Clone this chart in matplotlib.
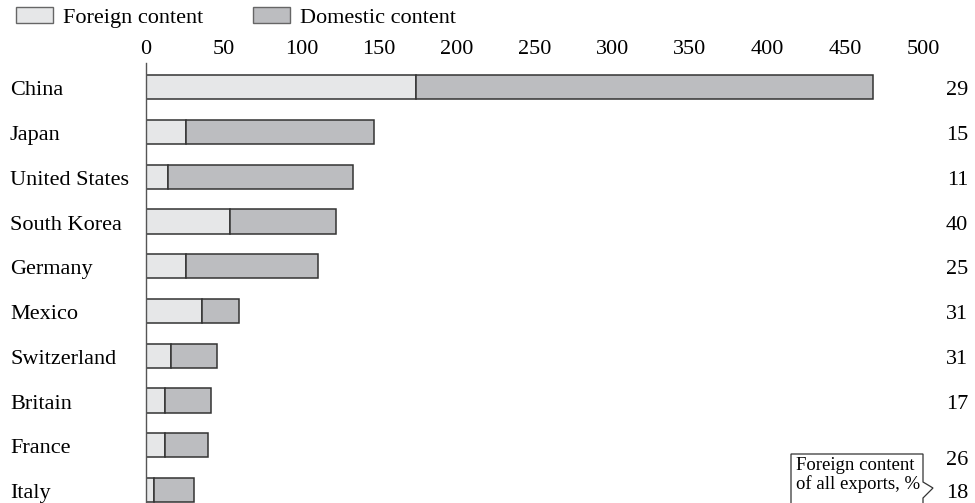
import matplotlib.pyplot as plt
from matplotlib.patches import Patch, Polygon

plt.rcParams['font.family'] = ['Liberation Serif', 'DejaVu Serif']

countries = ["China", "Japan", "United States", "South Korea", "Germany",
             "Mexico", "Switzerland", "Britain", "France", "Italy"]
foreign = [174, 26, 14, 54, 26, 36, 16, 12, 12, 5]
total = [468, 147, 133, 122, 111, 60, 46, 42, 40, 31]
share = [29, 15, 11, 40, 25, 31, 31, 17, 26, 18]
domestic = [t - f for t, f in zip(total, foreign)]

c_for = "#e6e7e8"
c_dom = "#bcbdc0"
edge = "#333333"
fs = 16

W, H = 975, 503
fig = plt.figure(figsize=(W / 100, H / 100), dpi=100)
ax = fig.add_axes([146 / W, 0, (923 - 146) / W, 1 - 63 / H])

y = list(range(len(countries)))
ax.barh(y, foreign, height=0.54, color=c_for, edgecolor=edge, linewidth=1.1)
ax.barh(y, domestic, left=foreign, height=0.54, color=c_dom, edgecolor=edge, linewidth=1.1)

ax.set_xlim(0, 500)
ax.set_ylim(9.29, -0.54)
ax.xaxis.tick_top()
ax.set_xticks(range(0, 501, 50))
ax.tick_params(axis='x', length=0, pad=3, labelsize=fs)
ax.set_yticks([])
for s in ['top', 'right', 'bottom']:
    ax.spines[s].set_visible(False)
ax.spines['left'].set_color('#555555')
ax.spines['left'].set_linewidth(1.0)

# country names and foreign-content shares
for i, name in enumerate(countries):
    yy = i + 0.08 + (0.25 if name == "France" else 0)
    ax.text(-136 / 1.554, i + 0.08, name, ha='left', va='center', fontsize=fs)
    ax.text(45 / 1.554 + 500, yy, str(share[i]), ha='right', va='center', fontsize=fs,
            clip_on=False)

# callout box
px = lambda x, yp: (x / W, 1 - yp / H)
pts = [px(791, 505), px(791, 454), px(923, 454), px(923, 482),
       px(933, 488), px(923, 498), px(923, 505)]
fig.patches.append(Polygon(pts, closed=False, fill=False, edgecolor='#333333',
                           linewidth=0.9, transform=fig.transFigure))
fig.text(796 / W, 1 - 457 / H, "Foreign content\nof all exports, %", ha='left', va='top',
         fontsize=13.5, linespacing=1.05)

handles = [Patch(facecolor=c_for, edgecolor='#666666', linewidth=1.0, label="Foreign content"),
           Patch(facecolor=c_dom, edgecolor='#666666', linewidth=1.0, label="Domestic content")]
fig.legend(handles=handles, loc='upper left', bbox_to_anchor=(0.0, 1.017), ncol=2,
           frameon=False, fontsize=fs, handlelength=1.68, handleheight=0.7,
           handletextpad=0.45, columnspacing=2.25, borderaxespad=0.3)

fig.savefig("out.png", dpi=100)
